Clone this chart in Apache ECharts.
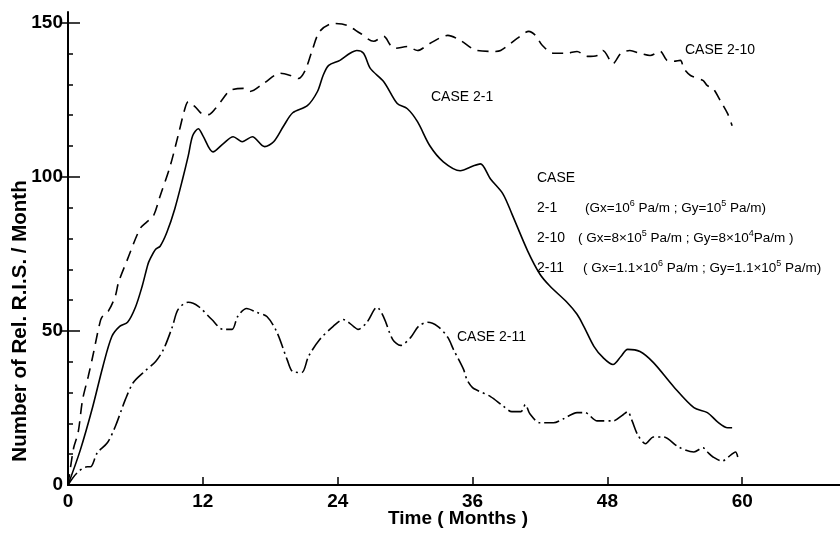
<!DOCTYPE html>
<html>
<head>
<meta charset="utf-8">
<title>Number of Rel. R.I.S. / Month</title>
<script src="https://cdn.jsdelivr.net/npm/echarts@6/dist/echarts.min.js"></script>
<style>
  html, body { margin: 0; padding: 0; background: #fff; }
  #chart { width: 840px; height: 533px; }
</style>
</head>
<body>
<div id="chart"></div>
<script>
// Time axis (months) and tick labels
const xTickValues = [0, 12, 24, 36, 48, 60];
const yLabelValues = [0, 50, 100, 150];
const yMinorTicks = [10, 20, 30, 40, 60, 70, 80, 90, 110, 120, 130, 140];
const yMajorTicks = [50, 100, 150];

// CASE 2-1 (solid)
const case21Months = [0, 1.1, 2.2, 3.1, 3.9, 4.6, 5.3, 6.0, 6.6, 7.1, 7.3, 7.8, 8.2, 8.8, 9.5, 10.2, 10.7, 11.1, 11.6, 12.0, 12.9, 13.8, 14.7, 15.5, 16.4, 17.5, 18.3, 19.2, 20.0, 21.3, 22.2, 22.7, 23.2, 24.2, 25.1, 25.7, 26.3, 26.9, 28.1, 29.3, 30.2, 31.1, 32.2, 33.4, 34.9, 36.1, 36.7, 37.6, 38.7, 39.5, 40.9, 42.0, 42.9, 44.4, 45.3, 45.9, 46.8, 47.6, 48.5, 49.2, 49.8, 50.9, 52.1, 53.9, 55.7, 56.9, 57.8, 58.7, 59.1];
const case21Values = [0, 11.4, 25.4, 38.4, 48.2, 51.5, 52.8, 57.7, 64.5, 71.5, 73.3, 76.5, 77.5, 82.0, 89.6, 99.3, 106.8, 113.4, 115.6, 113.4, 108.1, 110.7, 113.0, 111.4, 113.0, 109.8, 111.4, 116.6, 120.8, 123.1, 127.7, 132.9, 136.2, 137.8, 140.1, 141.0, 140.1, 135.2, 130.9, 123.8, 122.1, 117.9, 110.1, 104.9, 102.0, 103.6, 104.2, 99.3, 94.5, 88.0, 76.0, 68.4, 64.5, 59.3, 55.4, 51.5, 45.0, 41.4, 39.1, 41.7, 44.0, 43.3, 39.7, 31.9, 25.1, 23.5, 20.5, 18.6, 18.6];

// CASE 2-10 (dashed)
const case210Months = [0, 0.5, 0.9, 1.3, 1.8, 2.2, 2.9, 3.2, 3.6, 4.2, 4.5, 5.3, 6.4, 7.0, 7.6, 8.2, 9.1, 9.8, 10.4, 10.7, 11.3, 11.9, 12.5, 13.1, 13.8, 14.4, 15.6, 16.2, 17.4, 18.9, 19.8, 20.5, 21.1, 21.7, 22.4, 23.6, 24.8, 26.0, 27.2, 28.1, 28.7, 29.1, 30.2, 31.1, 32.2, 33.8, 34.9, 36.4, 37.9, 38.5, 40.0, 41.0, 41.6, 42.2, 43.2, 44.4, 45.3, 46.2, 47.1, 47.6, 48.5, 49.2, 50.0, 50.9, 51.8, 52.7, 53.3, 53.9, 54.5, 54.8, 55.4, 56.5, 56.9, 57.4, 58.1, 58.7, 59.1];
const case210Values = [0, 12.0, 17.0, 27.7, 35.2, 41.7, 53.5, 55.4, 56.5, 61.2, 65.8, 73.3, 83.1, 85.3, 87.3, 93.8, 103.6, 113.4, 122.1, 124.4, 122.8, 120.5, 120.2, 122.1, 125.4, 128.0, 128.7, 127.7, 130.3, 133.6, 132.9, 131.9, 134.5, 140.7, 147.2, 149.8, 149.2, 146.6, 144.0, 145.6, 142.7, 141.7, 142.3, 141.0, 143.3, 145.9, 144.3, 141.0, 140.7, 141.0, 145.0, 147.2, 145.9, 142.7, 140.1, 140.1, 140.7, 139.1, 139.4, 141.0, 136.8, 140.1, 141.0, 140.1, 139.4, 140.7, 137.8, 137.5, 137.8, 135.2, 132.9, 131.3, 129.6, 128.7, 124.4, 120.5, 116.6];

// CASE 2-11 (dash-dot)
const case211Months = [0, 0.8, 1.7, 2.0, 2.6, 3.5, 4.2, 5.1, 5.8, 6.7, 7.8, 8.5, 9.3, 9.8, 10.7, 11.6, 12.8, 13.8, 14.6, 15.1, 15.9, 16.8, 17.7, 18.6, 19.5, 20.0, 20.8, 21.4, 22.4, 23.6, 24.5, 25.4, 25.8, 26.6, 27.5, 28.1, 28.9, 29.6, 30.5, 31.2, 32.0, 32.9, 33.8, 34.3, 35.2, 35.5, 36.0, 36.5, 37.6, 38.7, 39.5, 40.3, 40.7, 41.1, 42.0, 43.2, 44.1, 45.3, 46.0, 47.1, 48.5, 49.4, 49.8, 50.2, 50.7, 51.4, 52.1, 53.0, 54.3, 55.7, 56.5, 56.9, 57.4, 58.2, 59.0, 59.4, 59.6];
const case211Values = [0, 3.9, 5.9, 5.9, 10.4, 13.7, 18.9, 27.7, 33.2, 36.5, 40.1, 44.0, 51.5, 57.0, 59.3, 58.0, 53.7, 50.5, 50.5, 54.7, 57.3, 56.0, 54.7, 49.5, 40.7, 36.8, 36.5, 41.7, 47.2, 51.5, 53.7, 51.5, 50.5, 52.8, 57.7, 54.4, 47.2, 45.3, 47.9, 51.5, 52.8, 51.5, 47.9, 44.0, 37.5, 34.2, 31.6, 30.6, 28.7, 25.7, 23.8, 23.8, 26.1, 23.1, 20.2, 20.2, 21.5, 23.5, 23.5, 20.8, 20.8, 22.8, 23.8, 20.8, 16.3, 13.4, 15.6, 15.6, 12.4, 10.7, 12.1, 10.7, 9.1, 7.8, 9.8, 10.7, 9.1];

const X_MAX = 68.7;
const Y_MAX = 153.5;
const FONT = 'Liberation Sans, Arial, sans-serif';
const INK = '#000';

function pairs(xs, ys) {
  return xs.map((x, i) => [x, ys[i]]);
}

const chart = echarts.init(document.getElementById('chart'), null, { renderer: 'canvas' });

const hiddenLabel = { show: false };
const noLine = { show: false };

function caseSeries(name, data, lineType) {
  return {
    name: name,
    type: 'line',
    xAxisIndex: 0,
    yAxisIndex: 0,
    data: data,
    smooth: 0.3,
    showSymbol: false,
    symbol: 'none',
    silent: true,
    lineStyle: { color: INK, width: 1.6, type: lineType, cap: 'butt' }
  };
}

function plainText(x, y, text, size) {
  return {
    type: 'text', x: x, y: y, silent: true,
    style: {
      text: text, fill: INK, font: size + 'px ' + FONT,
      align: 'left', verticalAlign: 'middle'
    }
  };
}

// key entries with raised exponents
function supText(x, y, text) {
  return {
    type: 'text', x: x, y: y, silent: true,
    style: {
      text: text, fill: INK, fontFamily: FONT, fontSize: 13.5, lineHeight: 18,
      align: 'left', verticalAlign: 'middle',
      rich: { s: { fontFamily: FONT, fontSize: 9, lineHeight: 9, verticalAlign: 'top', fill: INK } }
    }
  };
}

chart.setOption({
  animation: false,
  backgroundColor: '#fff',
  grid: { left: 68, right: 0, top: 12, bottom: 48, containLabel: false },
  xAxis: [
    {
      type: 'value', position: 'bottom', min: 0, max: X_MAX,
      axisLine: { show: true, lineStyle: { color: INK, width: 2 } },
      axisTick: { show: true, inside: true, length: 8, customValues: [12, 24, 36, 48, 60], lineStyle: { color: INK, width: 1.5 } },
      axisLabel: { show: true, customValues: xTickValues, color: INK, fontFamily: FONT, fontSize: 19, fontWeight: 'bold', margin: 7 },
      splitLine: noLine
    },
    {
      type: 'value', position: 'top', min: 0, max: X_MAX,
      axisLine: { show: true, lineStyle: { color: INK, width: 1.5 } },
      axisTick: { show: false }, axisLabel: hiddenLabel, splitLine: noLine
    }
  ],
  yAxis: [
    {
      type: 'value', position: 'left', min: 0, max: Y_MAX,
      axisLine: { show: true, lineStyle: { color: INK, width: 2 } },
      axisTick: { show: true, inside: false, length: 6, customValues: yMajorTicks, lineStyle: { color: INK, width: 1.5 } },
      axisLabel: { show: true, customValues: yLabelValues, color: INK, fontFamily: FONT, fontSize: 19, fontWeight: 'bold', margin: 5 },
      splitLine: noLine
    },
    {
      type: 'value', position: 'left', min: 0, max: Y_MAX,
      axisLine: { show: false },
      axisTick: { show: true, inside: true, length: 5, customValues: yMinorTicks, lineStyle: { color: INK, width: 1.5 } },
      axisLabel: hiddenLabel, splitLine: noLine
    },
    {
      type: 'value', position: 'left', min: 0, max: Y_MAX,
      axisLine: { show: false },
      axisTick: { show: true, inside: true, length: 12, customValues: yMajorTicks, lineStyle: { color: INK, width: 1.5 } },
      axisLabel: hiddenLabel, splitLine: noLine
    }
  ],
  series: [
    caseSeries('CASE 2-1', pairs(case21Months, case21Values), 'solid'),
    caseSeries('CASE 2-10', pairs(case210Months, case210Values), [11, 7]),
    caseSeries('CASE 2-11', pairs(case211Months, case211Values), [15, 4, 2, 4])
  ],
  graphic: [
    // axis titles
    {
      type: 'text', x: 20, y: 321, rotation: Math.PI / 2, silent: true,
      style: { text: 'Number of Rel. R.I.S. / Month', fill: INK, font: 'bold 20.5px ' + FONT, align: 'center', verticalAlign: 'middle' }
    },
    {
      type: 'text', x: 458, y: 519, silent: true,
      style: { text: 'Time ( Months )', fill: INK, font: 'bold 19px ' + FONT, align: 'center', verticalAlign: 'middle' }
    },
    // curve labels
    plainText(685, 50, 'CASE 2-10', 14),
    plainText(431, 97, 'CASE 2-1', 14),
    plainText(457, 337, 'CASE 2-11', 14),
    // case key
    plainText(537, 178, 'CASE', 14),
    plainText(537, 208, '2-1', 14),
    supText(585, 208, '(Gx=10{s|6} Pa/m ; Gy=10{s|5} Pa/m)'),
    plainText(537, 238, '2-10', 14),
    supText(578, 238, '( Gx=8×10{s|5} Pa/m ; Gy=8×10{s|4}Pa/m )'),
    plainText(537, 268, '2-11', 14),
    supText(583, 268, '( Gx=1.1×10{s|6} Pa/m ; Gy=1.1×10{s|5} Pa/m)')
  ]
});
</script>
</body>
</html>
